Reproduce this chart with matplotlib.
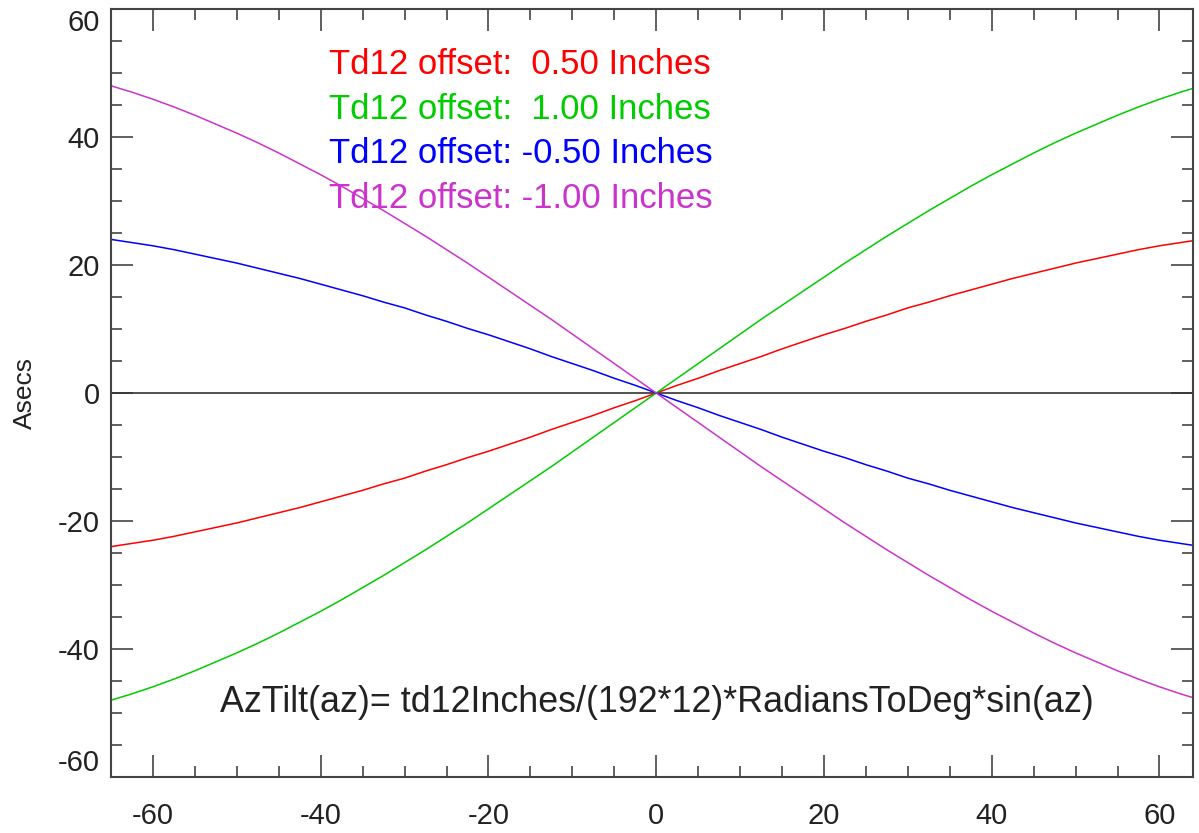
import matplotlib
matplotlib.use('Agg')
import matplotlib.pyplot as plt
from matplotlib.ticker import MultipleLocator

plt.rcParams['font.family'] = ['Liberation Sans', 'DejaVu Sans']
plt.rcParams['axes.unicode_minus'] = False

# Values (azimuth in degrees, tilt in asecs)
az = [-65, -62.5, -60, -57.5, -55, -52.5, -50, -47.5, -45, -42.5, -40, -37.5, -35, -32.5,
      -30, -27.5, -25, -22.5, -20, -17.5, -15, -12.5, -10, -7.5, -5, -2.5, 0,
      2.5, 5, 7.5, 10, 12.5, 15, 17.5, 20, 22.5, 25, 27.5, 30, 32.5,
      35, 37.5, 40, 42.5, 45, 47.5, 50, 52.5, 55, 57.5, 60, 62.5, 64]
tilt_p050 = [-24.0, -23.5, -23.0, -22.4, -21.7, -21.0, -20.3, -19.5, -18.7, -17.9, -17.0, -16.1, -15.2, -14.2,
             -13.3, -12.2, -11.2, -10.1, -9.1, -8.0, -6.9, -5.7, -4.6, -3.5, -2.3, -1.2, 0.0,
             1.2, 2.3, 3.5, 4.6, 5.7, 6.9, 8.0, 9.1, 10.1, 11.2, 12.2, 13.3, 14.2,
             15.2, 16.1, 17.0, 17.9, 18.7, 19.5, 20.3, 21.0, 21.7, 22.4, 23.0, 23.5, 23.8]
tilt_p100 = [-48.0, -47.0, -45.9, -44.7, -43.4, -42.0, -40.6, -39.1, -37.5, -35.8, -34.1, -32.3, -30.4, -28.5,
             -26.5, -24.5, -22.4, -20.3, -18.1, -15.9, -13.7, -11.5, -9.2, -6.9, -4.6, -2.3, 0.0,
             2.3, 4.6, 6.9, 9.2, 11.5, 13.7, 15.9, 18.1, 20.3, 22.4, 24.5, 26.5, 28.5,
             30.4, 32.3, 34.1, 35.8, 37.5, 39.1, 40.6, 42.0, 43.4, 44.7, 45.9, 47.0, 47.6]
tilt_m050 = [24.0, 23.5, 23.0, 22.4, 21.7, 21.0, 20.3, 19.5, 18.7, 17.9, 17.0, 16.1, 15.2, 14.2,
             13.3, 12.2, 11.2, 10.1, 9.1, 8.0, 6.9, 5.7, 4.6, 3.5, 2.3, 1.2, 0.0,
             -1.2, -2.3, -3.5, -4.6, -5.7, -6.9, -8.0, -9.1, -10.1, -11.2, -12.2, -13.3, -14.2,
             -15.2, -16.1, -17.0, -17.9, -18.7, -19.5, -20.3, -21.0, -21.7, -22.4, -23.0, -23.5, -23.8]
tilt_m100 = [48.0, 47.0, 45.9, 44.7, 43.4, 42.0, 40.6, 39.1, 37.5, 35.8, 34.1, 32.3, 30.4, 28.5,
             26.5, 24.5, 22.4, 20.3, 18.1, 15.9, 13.7, 11.5, 9.2, 6.9, 4.6, 2.3, 0.0,
             -2.3, -4.6, -6.9, -9.2, -11.5, -13.7, -15.9, -18.1, -20.3, -22.4, -24.5, -26.5, -28.5,
             -30.4, -32.3, -34.1, -35.8, -37.5, -39.1, -40.6, -42.0, -43.4, -44.7, -45.9, -47.0, -47.6]

labels = ['Td12 offset:  0.50 Inches', 'Td12 offset:  1.00 Inches',
          'Td12 offset: -0.50 Inches', 'Td12 offset: -1.00 Inches']
colors = ['#ff0000', '#00cc00', '#0000ff', '#cc33cc']
series = [tilt_p050, tilt_p100, tilt_m050, tilt_m100]

fig = plt.figure(figsize=(11.99, 8.33), dpi=100)
ax = fig.add_axes([0.0926, 0.0672, 0.9024, 0.922])

ax.axhline(0, color='#333333', lw=1.2)
for ys, c in zip(series, colors):
    ax.plot(az, ys, color=c, lw=1.1)

ax.set_xlim(-65, 64)
ax.set_ylim(-60, 60)
ax.xaxis.set_major_locator(MultipleLocator(20))
ax.xaxis.set_minor_locator(MultipleLocator(5))
ax.yaxis.set_major_locator(MultipleLocator(20))
ax.yaxis.set_minor_locator(MultipleLocator(5))
ax.tick_params(which='both', direction='in', top=True, right=True, colors='#444444')
ax.tick_params(which='major', length=15.5, width=1.2, labelsize=21, labelcolor='#222222')
ax.tick_params(which='minor', length=8, width=1.2)
ax.tick_params(axis='x', which='major', pad=18)
ax.tick_params(axis='y', which='major', pad=8)
for s in ax.spines.values():
    s.set_color('#444444')
    s.set_linewidth(1.5)

ax.set_ylabel('Asecs', fontsize=19, color='#222222', labelpad=15)

# colored text legend
for i, (lab, c) in enumerate(zip(labels, colors)):
    ax.text(0.2015, 0.928 - i * 0.0583, lab, color=c, fontsize=25,
            transform=ax.transAxes, va='center', ha='left')

ax.text(0.101, 0.097, 'AzTilt(az)= td12Inches/(192*12)*RadiansToDeg*sin(az)',
        fontsize=25.8, color='#222222', transform=ax.transAxes, va='center', ha='left')

# end labels of the y axis sit inside the axis range, like the original
fig.canvas.draw()
ylabs = ax.yaxis.get_majorticklabels()
for t in ylabs:
    if t.get_text() == '60':
        t.set_va('top')
    elif t.get_text() == '-60':
        t.set_va('bottom')

fig.savefig('out.png', dpi=100)
